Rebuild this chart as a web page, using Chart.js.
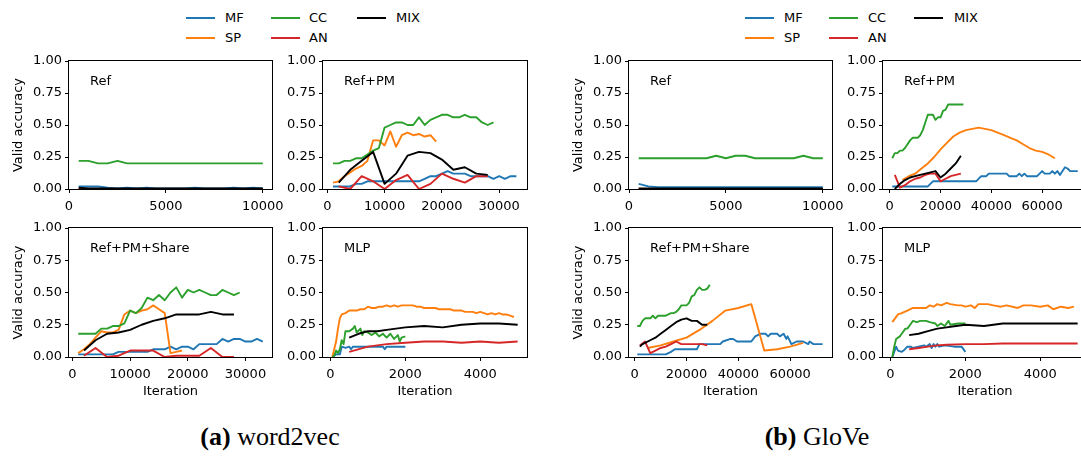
<!DOCTYPE html>
<html>
<head>
<meta charset="utf-8">
<script src="https://cdn.jsdelivr.net/npm/chart.js@4.4.0/dist/chart.umd.min.js"></script>
<style>
  body { margin: 0; width: 1081px; height: 457px; overflow: hidden; background: #fff; position: relative; font-family: "DejaVu Sans", sans-serif; }
  canvas { position: absolute; }
  .lg-line { position: absolute; width: 29px; height: 2px; }
  .lg-text { position: absolute; font-size: 13px; line-height: 14px; color: #000; }
  .caption { position: absolute; width: 300px; text-align: center; font-family: "Liberation Serif", serif; font-size: 26px; line-height: 26px; color: #000; }
</style>
</head>
<body>
<div id="root"></div>
<div class="caption" style="left:120px; top:424px;"><b>(a)</b> word2vec</div>
<div class="caption" style="left:667px; top:424px;"><b>(b)</b> GloVe</div>
<script>
// ---- word2vec : Ref ----
const refIter = [500,1000,1500,2000,2500,3000,3500,4000,4500,5000,5500,6000,6500,7000,7500,8000,8500,9000,9500,10000];
const w2vRefMF  = [0.02,0.02,0.02,0.01,0.005,0.01,0.005,0.01,0.005,0.005,0.005,0.005,0.01,0.005,0.005,0.005,0.01,0.005,0.01,0.005];
const w2vRefSP  = [0,0,0,0,0,0,0,0,0,0,0,0,0,0,0,0,0,0,0,0];
const w2vRefCC  = [0.22,0.22,0.20,0.20,0.22,0.20,0.20,0.20,0.20,0.20,0.20,0.20,0.20,0.20,0.20,0.20,0.20,0.20,0.20,0.20];
const w2vRefAN  = [0,0,0,0,0,0,0,0,0,0,0,0,0,0,0,0,0,0,0,0];
const w2vRefMIX = [0.01,0.005,0.005,0.005,0.005,0.005,0.005,0.005,0.005,0.005,0.005,0.005,0.005,0.005,0.005,0.005,0.005,0.005,0.005,0.005];

// shared iteration grids
const it1k33 = [1000,2000,3000,4000,5000,6000,7000,8000,9000,10000,11000,12000,13000,14000,15000,16000,17000,18000,19000,20000,21000,22000,23000,24000,25000,26000,27000,28000,29000,30000,31000,32000,33000];
const it1k29 = [1000,2000,3000,4000,5000,6000,7000,8000,9000,10000,11000,12000,13000,14000,15000,16000,17000,18000,19000,20000,21000,22000,23000,24000,25000,26000,27000,28000,29000];
const it1k19 = [1000,2000,3000,4000,5000,6000,7000,8000,9000,10000,11000,12000,13000,14000,15000,16000,17000,18000,19000];
const it2k28 = [2000,4000,6000,8000,10000,12000,14000,16000,18000,20000,22000,24000,26000,28000];

// ---- word2vec : Ref+PM ----
const w2vPmMF  = [0.02,0.02,0.02,0.02,0.04,0.04,0.06,0.06,0.06,0.06,0.06,0.06,0.06,0.06,0.06,0.06,0.08,0.10,0.10,0.12,0.14,0.12,0.12,0.12,0.10,0.10,0.10,0.10,0.08,0.10,0.08,0.10,0.10];
const w2vPmSP  = [0.05,0.06,0.10,0.13,0.16,0.18,0.22,0.38,0.38,0.34,0.45,0.33,0.42,0.44,0.42,0.43,0.41,0.42,0.37];
const w2vPmCC  = [0.20,0.20,0.22,0.22,0.24,0.24,0.27,0.30,0.32,0.48,0.50,0.52,0.52,0.50,0.50,0.56,0.50,0.54,0.56,0.58,0.58,0.56,0.56,0.58,0.56,0.56,0.52,0.50,0.52];
const w2vPmAN  = [0.02,0.00,0.10,0.06,0.00,0.07,0.11,0.00,0.04,0.12,0.08,0.05,0.10,0.10];
const w2vPmMIX = [0.05,0.15,0.22,0.29,0.04,0.12,0.26,0.29,0.28,0.23,0.15,0.17,0.12,0.11];

// ---- word2vec : Ref+PM+Share ----
const w2vShMF  = [0.02,0.02,0.02,0.02,0.02,0.02,0.02,0.04,0.04,0.04,0.04,0.04,0.04,0.06,0.06,0.06,0.08,0.06,0.08,0.08,0.06,0.10,0.10,0.10,0.10,0.14,0.12,0.14,0.14,0.12,0.12,0.14,0.12];
const w2vShSP  = [0.03,0.06,0.10,0.15,0.20,0.19,0.19,0.21,0.33,0.36,0.34,0.36,0.37,0.40,0.37,0.34,0.03,0.04,0.05];
const w2vShCC  = [0.18,0.18,0.18,0.18,0.22,0.22,0.24,0.24,0.26,0.36,0.34,0.38,0.46,0.44,0.48,0.44,0.50,0.54,0.46,0.52,0.50,0.52,0.50,0.48,0.48,0.52,0.50,0.48,0.50];
const w2vShAN  = [0.01,0.07,0.00,0.01,0.05,0.05,0.05,0.00,0.01,0.01,0.01,0.07,0.00,0.00];
const w2vShMIX = [0.05,0.13,0.18,0.19,0.21,0.25,0.28,0.30,0.33,0.33,0.33,0.35,0.33,0.33];

// ---- word2vec : MLP ----
const w2vMlpSPx  = [50,150,200,250,300,400,500,600,700,800,900,1000,1100,1200,1300,1400,1500,1600,1700,1800,1900,2000,2100,2200,2300,2400,2500,2600,2700,2800,2900,3000,3100,3200,3300,3400,3500,3600,3700,3800,3900,4000,4100,4200,4300,4400,4500,4600,4700,4800,4900];
const w2vMlpSP   = [0.00,0.12,0.22,0.30,0.33,0.34,0.36,0.36,0.36,0.37,0.37,0.39,0.38,0.38,0.39,0.39,0.40,0.39,0.40,0.39,0.40,0.40,0.40,0.40,0.39,0.39,0.38,0.38,0.38,0.38,0.37,0.37,0.37,0.37,0.36,0.36,0.36,0.35,0.35,0.35,0.34,0.35,0.34,0.33,0.34,0.33,0.34,0.33,0.33,0.32,0.31];
const w2vMlpCCx  = [50,100,150,200,250,300,350,400,500,600,650,700,800,850,900,1000,1100,1200,1300,1400,1500,1600,1700,1800,1850,1900,2000];
const w2vMlpCC   = [0.00,0.01,0.05,0.03,0.06,0.13,0.10,0.20,0.20,0.22,0.24,0.19,0.22,0.17,0.20,0.19,0.17,0.19,0.16,0.18,0.15,0.18,0.14,0.17,0.12,0.15,0.16];
const w2vMlpMFx  = [50,100,150,250,300,400,500,550,600,700,1400,1450,1500,2000];
const w2vMlpMF   = [0.00,0.01,0.02,0.02,0.08,0.07,0.08,0.06,0.08,0.08,0.08,0.06,0.08,0.08];
const w2vMlpMIXx = [500,750,1000,1250,1500,2000,2500,3000,3500,4000,4500,5000];
const w2vMlpMIX  = [0.15,0.18,0.20,0.20,0.21,0.23,0.24,0.23,0.25,0.26,0.26,0.25];
const w2vMlpANx  = [500,1000,1500,2000,2500,3000,3500,4000,4500,5000];
const w2vMlpAN   = [0.04,0.08,0.10,0.11,0.12,0.12,0.11,0.12,0.11,0.12];

// ---- GloVe : Ref ----
const glvRefMF  = [0.04,0.02,0.015,0.015,0.015,0.015,0.015,0.015,0.015,0.015,0.015,0.015,0.015,0.015,0.015,0.015,0.015,0.015,0.015,0.015];
const glvRefSP  = [0,0,0,0,0,0,0,0,0,0,0,0,0,0,0,0,0,0,0,0];
const glvRefCC  = [0.24,0.24,0.24,0.24,0.24,0.24,0.24,0.24,0.26,0.24,0.26,0.26,0.24,0.24,0.24,0.24,0.24,0.26,0.24,0.24];
const glvRefAN  = [0,0,0,0,0,0,0,0,0,0,0,0,0,0,0,0,0,0,0,0];
const glvRefMIX = [0.005,0.005,0.005,0.005,0.005,0.005,0.005,0.005,0.005,0.005,0.005,0.005,0.005,0.005,0.005,0.005,0.005,0.005,0.005,0.005];

// ---- GloVe : Ref+PM ----
const glvPmMFx = [1000,15000,17000,34000,36000,38000,39000,46000,47000,50000,51000,52000,53000,54000,58000,59000,60000,61000,63000,64000,65000,66000,67000,68000,69000,70000,71000,74000];
const glvPmMF  = [0.02,0.02,0.06,0.06,0.10,0.10,0.12,0.12,0.10,0.10,0.12,0.10,0.12,0.10,0.10,0.12,0.14,0.12,0.12,0.14,0.12,0.14,0.11,0.14,0.17,0.16,0.14,0.14];
const glvPmSPx = [5000,7500,10000,12500,15000,17500,20000,22500,25000,27500,30000,32500,35000,37500,40000,42500,45000,47500,50000,52500,55000,57500,60000,62500,65000];
const glvPmSP  = [0.07,0.10,0.12,0.16,0.20,0.25,0.31,0.36,0.41,0.44,0.46,0.47,0.48,0.47,0.46,0.44,0.42,0.40,0.38,0.35,0.32,0.30,0.29,0.27,0.24];
const glvPmCC  = [0.24,0.28,0.28,0.30,0.30,0.32,0.35,0.38,0.40,0.40,0.40,0.42,0.46,0.52,0.58,0.58,0.58,0.54,0.56,0.56,0.61,0.62,0.66,0.66,0.66,0.66,0.66,0.66,0.66];
const glvPmAN  = [0.11,0.01,0.03,0.06,0.08,0.09,0.11,0.12,0.12,0.06,0.08,0.10,0.11,0.12];
const glvPmMIX = [0.00,0.04,0.07,0.09,0.10,0.11,0.12,0.13,0.14,0.09,0.12,0.16,0.20,0.26];

// ---- GloVe : Ref+PM+Share ----
const glvShMFx  = [1000,12000,14000,15500,24000,25000,33000,34000,37000,38000,39500,45000,46500,48500,50500,51500,52500,55000,56000,57500,58500,59000,60500,62500,65000,67000,67500,69000,72500];
const glvShMF   = [0.02,0.02,0.04,0.06,0.06,0.10,0.10,0.12,0.14,0.14,0.12,0.12,0.16,0.18,0.18,0.16,0.18,0.18,0.16,0.18,0.14,0.16,0.10,0.12,0.12,0.10,0.12,0.10,0.10];
const glvShSPx  = [5000,10000,15000,20000,25000,30000,35000,40000,45000,50000,55000,60000,65000];
const glvShSP   = [0.07,0.09,0.12,0.15,0.21,0.28,0.36,0.38,0.41,0.05,0.06,0.08,0.11];
const glvShCC   = [0.24,0.24,0.28,0.30,0.30,0.30,0.32,0.30,0.32,0.32,0.32,0.32,0.33,0.34,0.34,0.35,0.37,0.40,0.40,0.40,0.42,0.47,0.48,0.52,0.54,0.52,0.52,0.53,0.56];
const glvShAN   = [0.09,0.12,0.03,0.05,0.07,0.08,0.10,0.12,0.10,0.10,0.10,0.10,0.10,0.09];
const glvShMIXx = [2000,3000,4000,6000,8000,10000,12000,14000,16000,18000,20000,22000,24000,26000,28000];
const glvShMIX  = [0.08,0.10,0.11,0.13,0.15,0.18,0.21,0.24,0.27,0.29,0.30,0.28,0.28,0.25,0.25];

// ---- GloVe : MLP ----
const glvMlpSPx  = [50,200,300,450,600,750,950,1050,1150,1250,1350,1500,1600,1800,1900,2000,2150,2250,2350,2600,2750,2950,3100,3400,3550,3750,4000,4200,4350,4550,4750,4900];
const glvMlpSP   = [0.27,0.33,0.34,0.36,0.38,0.38,0.38,0.40,0.39,0.41,0.40,0.42,0.41,0.40,0.40,0.39,0.40,0.38,0.41,0.41,0.40,0.39,0.40,0.38,0.40,0.40,0.39,0.40,0.37,0.39,0.38,0.39];
const glvMlpCCx  = [50,100,150,250,300,400,450,550,600,700,800,950,1050,1200,1250,1350,1450,1550,1600,1800,2000];
const glvMlpCC   = [0.00,0.08,0.14,0.16,0.18,0.22,0.22,0.26,0.28,0.27,0.28,0.28,0.27,0.26,0.24,0.26,0.24,0.28,0.25,0.26,0.26];
const glvMlpMFx  = [50,150,200,300,350,450,550,600,750,900,950,1050,1100,1150,1200,1250,1300,1450,1700,1900,2000];
const glvMlpMF   = [0.00,0.08,0.05,0.04,0.05,0.08,0.08,0.07,0.08,0.09,0.08,0.10,0.07,0.10,0.08,0.10,0.08,0.09,0.08,0.08,0.04];
const glvMlpMIXx = [500,750,1000,1250,1500,1750,2000,2500,3000,3500,4000,4500,5000];
const glvMlpMIX  = [0.17,0.18,0.20,0.22,0.23,0.24,0.25,0.24,0.26,0.26,0.26,0.26,0.26];
const glvMlpANx  = [500,750,1000,1250,1500,2000,2500,3000,3500,4000,4500,5000];
const glvMlpAN   = [0.06,0.07,0.08,0.09,0.095,0.10,0.10,0.105,0.105,0.105,0.105,0.105];

const yTicks = [0, 0.25, 0.5, 0.75, 1];
const colors = { MF: '#1f77b4', SP: '#ff7f0e', CC: '#2ca02c', AN: '#d62728', MIX: '#000000' };
const drawOrder = { MF: 5, SP: 4, CC: 3, AN: 2, MIX: 1 };
const FONT = { family: 'DejaVu Sans', size: 13 };

// margins of each canvas around its plot area
const ML = 68, MT = 12, MR = 30, MB = 44;

// frame + panel label
const framePlugin = {
  id: 'frame',
  afterDatasetsDraw(chart, args, opts) {
    const a = chart.chartArea, c = chart.ctx;
    c.save();
    c.strokeStyle = '#000';
    c.lineWidth = 1;
    c.strokeRect(Math.round(a.left) - 0.5, Math.round(a.top) - 0.5, Math.round(a.right - a.left) + 1, Math.round(a.bottom - a.top) + 1);
    c.fillStyle = '#000';
    c.font = '13px "DejaVu Sans"';
    c.textBaseline = 'middle';
    c.fillText(opts.text, a.left + 21, a.top + 21);
    c.restore();
  }
};

function pts(xs, ys) {
  return xs.map((x, i) => ({ x: x, y: ys[i] }));
}

function panel(px, py, w, h, xmin, xmax, xTicks, label, series, showY, showX) {
  const cv = document.createElement('canvas');
  cv.width = ML + w + MR;
  cv.height = MT + h + MB;
  cv.style.left = (px - ML) + 'px';
  cv.style.top = (py - MT) + 'px';
  document.getElementById('root').appendChild(cv);

  const datasets = series.map(s => ({
    label: s[0],
    data: pts(s[1], s[2]),
    borderColor: colors[s[0]],
    backgroundColor: colors[s[0]],
    borderWidth: 1.9,
    pointRadius: 0,
    tension: 0,
    borderJoinStyle: 'round',
    order: drawOrder[s[0]]
  }));

  new Chart(cv, {
    type: 'line',
    data: { datasets: datasets },
    options: {
      responsive: false,
      animation: false,
      devicePixelRatio: 1,
      layout: { padding: { left: 0, top: MT, right: MR, bottom: 0 } },
      plugins: { legend: { display: false }, tooltip: { enabled: false }, frame: { text: label } },
      scales: {
        x: {
          type: 'linear', min: xmin, max: xmax,
          afterBuildTicks: ax => { ax.ticks = xTicks.map(v => ({ value: v })); },
          afterFit: s => { s.height = MB; },
          ticks: { callback: v => String(v), font: FONT, color: '#000', padding: 6, maxRotation: 0, minRotation: 0, autoSkip: false },
          grid: { drawOnChartArea: false, drawTicks: true, tickLength: 4, color: '#000' },
          border: { display: false },
          title: { display: showX, text: 'Iteration', font: FONT, color: '#000', padding: { top: 0, bottom: 2 } }
        },
        y: {
          min: 0, max: 1,
          afterBuildTicks: ax => { ax.ticks = yTicks.map(v => ({ value: v })); },
          afterFit: s => { s.width = ML; },
          ticks: { callback: v => v.toFixed(2), font: FONT, color: '#000', padding: 3 },
          grid: { drawOnChartArea: false, drawTicks: true, tickLength: 4, color: '#000' },
          border: { display: false },
          title: { display: showY, text: 'Valid accuracy', font: FONT, color: '#000', padding: { top: 10, bottom: 0 } }
        }
      }
    },
    plugins: [framePlugin]
  });
}

// word2vec group
panel(69, 61, 203, 128, 0, 10475, [0, 5000, 10000], 'Ref', [
  ['MF', refIter, w2vRefMF], ['SP', refIter, w2vRefSP], ['CC', refIter, w2vRefCC], ['AN', refIter, w2vRefAN], ['MIX', refIter, w2vRefMIX]
], true, false);
panel(323, 61, 204, 128, -750, 34850, [0, 10000, 20000, 30000], 'Ref+PM', [
  ['MF', it1k33, w2vPmMF], ['SP', it1k19, w2vPmSP], ['CC', it1k29, w2vPmCC], ['AN', it2k28, w2vPmAN], ['MIX', it2k28, w2vPmMIX]
], false, false);
panel(69, 228, 203, 129, -600, 34600, [0, 10000, 20000, 30000], 'Ref+PM+Share', [
  ['MF', it1k33, w2vShMF], ['SP', it1k19, w2vShSP], ['CC', it1k29, w2vShCC], ['AN', it2k28, w2vShAN], ['MIX', it2k28, w2vShMIX]
], true, true);
panel(323, 228, 204, 129, -200, 5250, [0, 2000, 4000], 'MLP', [
  ['MF', w2vMlpMFx, w2vMlpMF], ['SP', w2vMlpSPx, w2vMlpSP], ['CC', w2vMlpCCx, w2vMlpCC], ['AN', w2vMlpANx, w2vMlpAN], ['MIX', w2vMlpMIXx, w2vMlpMIX]
], false, true);

// GloVe group
panel(629, 61, 203, 128, 0, 10475, [0, 5000, 10000], 'Ref', [
  ['MF', refIter, glvRefMF], ['SP', refIter, glvRefSP], ['CC', refIter, glvRefCC], ['AN', refIter, glvRefAN], ['MIX', refIter, glvRefMIX]
], true, false);
panel(883, 61, 204, 128, -2650, 77650, [0, 20000, 40000, 60000], 'Ref+PM', [
  ['MF', glvPmMFx, glvPmMF], ['SP', glvPmSPx, glvPmSP], ['CC', it1k29, glvPmCC], ['AN', it2k28, glvPmAN], ['MIX', it2k28, glvPmMIX]
], false, false);
panel(629, 228, 203, 129, -2200, 76150, [0, 20000, 40000, 60000], 'Ref+PM+Share', [
  ['MF', glvShMFx, glvShMF], ['SP', glvShSPx, glvShSP], ['CC', it1k29, glvShCC], ['AN', it2k28, glvShAN], ['MIX', glvShMIXx, glvShMIX]
], true, true);
panel(883, 228, 204, 129, -200, 5250, [0, 2000, 4000], 'MLP', [
  ['MF', glvMlpMFx, glvMlpMF], ['SP', glvMlpSPx, glvMlpSP], ['CC', glvMlpCCx, glvMlpCC], ['AN', glvMlpANx, glvMlpAN], ['MIX', glvMlpMIXx, glvMlpMIX]
], false, true);

// legends (3 columns, filled column by column)
function legend(lineXs, textXs) {
  const names = [['MF', 'SP'], ['CC', 'AN'], ['MIX']];
  const rowsY = [18, 38];
  const root = document.getElementById('root');
  names.forEach((col, ci) => {
    col.forEach((n, ri) => {
      const ln = document.createElement('div');
      ln.className = 'lg-line';
      ln.style.left = lineXs[ci] + 'px';
      ln.style.top = (rowsY[ri] - 1) + 'px';
      ln.style.background = colors[n];
      root.appendChild(ln);
      const tx = document.createElement('div');
      tx.className = 'lg-text';
      tx.textContent = n;
      tx.style.left = textXs[ci] + 'px';
      tx.style.top = (rowsY[ri] - 7) + 'px';
      root.appendChild(tx);
    });
  });
}
legend([186, 271, 357], [225, 309, 396]);
legend([745, 829, 914], [784, 868, 954]);
</script>
</body>
</html>
